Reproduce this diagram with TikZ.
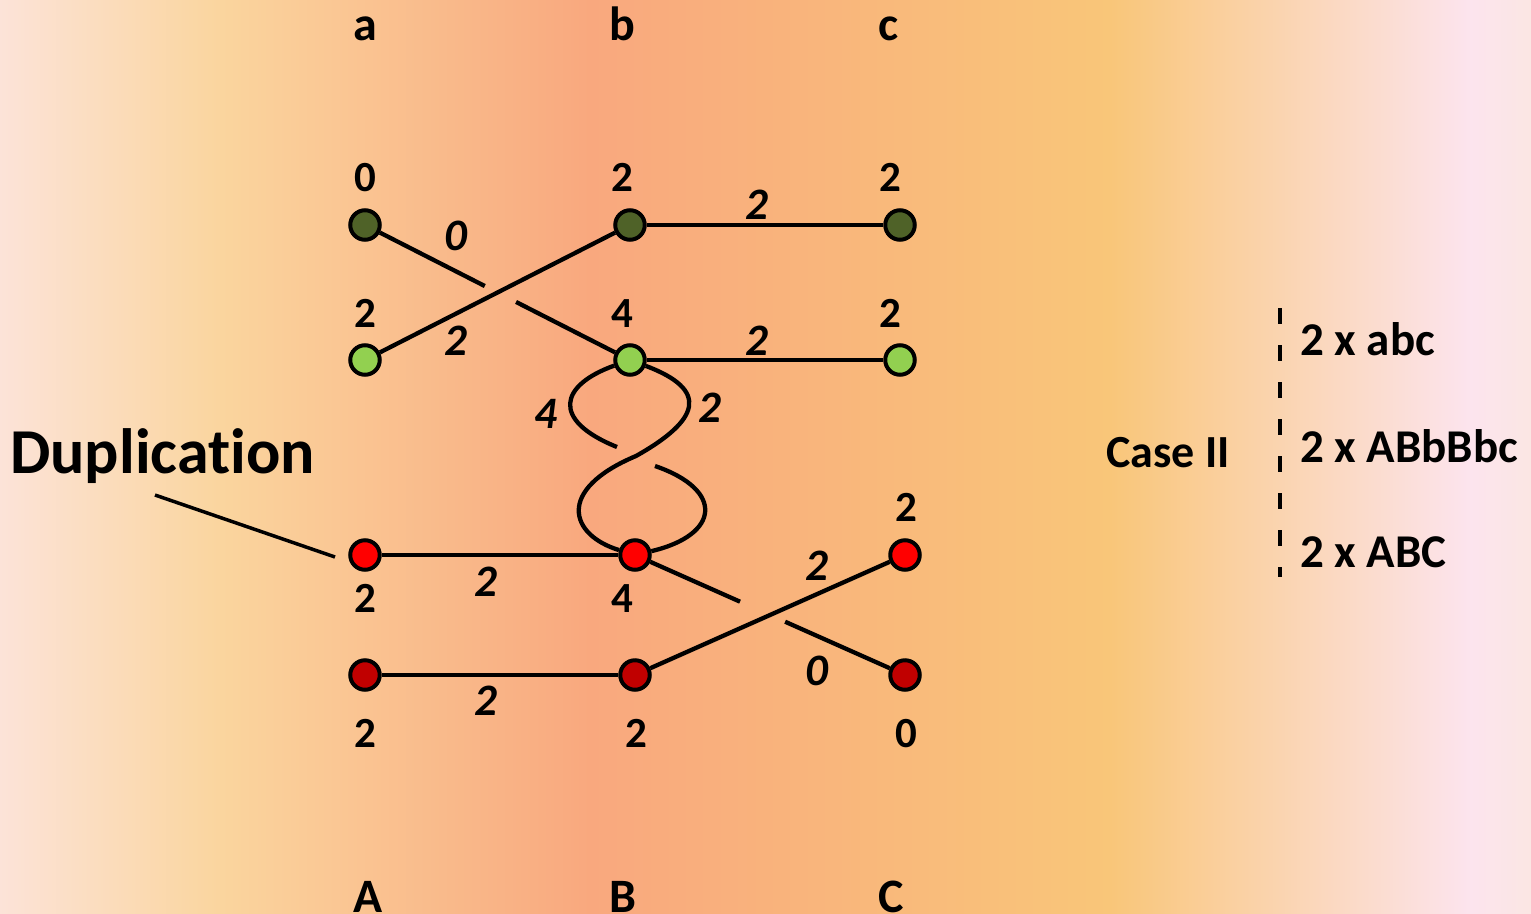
\documentclass[tikz,border=0pt]{standalone}
\usepackage{fontspec}
\setmainfont[Ligatures=NoCommon]{Carlito}
\usetikzlibrary{calc}
\definecolor{bgA}{HTML}{FCE3D8}
\definecolor{bgB}{HTML}{FAD59E}
\definecolor{bgC}{HTML}{F9A87E}
\definecolor{bgD}{HTML}{F9C679}
\definecolor{bgE}{HTML}{FCE4EE}
\definecolor{bgF}{HTML}{FBE6E3}
\definecolor{dkgreen}{HTML}{4F6228}
\definecolor{ltgreen}{HTML}{92D050}
\definecolor{brred}{HTML}{FF0000}
\definecolor{dkred}{HTML}{C00000}
\begin{document}
\begin{tikzpicture}[x=1pt,y=-1pt,
  dot/.style={circle,draw=black,line width=4pt,minimum size=29.5pt,inner sep=0pt},
  edge/.style={line width=4.3pt,black},
  num/.style={font=\fontsize{43}{45}\selectfont\bfseries,anchor=base,inner sep=0pt},
  elab/.style={font=\fontsize{45}{47}\selectfont\bfseries\itshape,anchor=base,inner sep=0pt},
  col/.style={font=\fontsize{48}{50}\selectfont\bfseries,anchor=base,inner sep=0pt},
  rtext/.style={font=\fontsize{47}{49}\selectfont\bfseries,anchor=base west,inner sep=0pt}]
\useasboundingbox (0,0) rectangle (1531,913);
% background gradient
\shade[left color=bgA,right color=bgB] (0,0) rectangle (221,913);
\shade[left color=bgB,right color=bgC] (220,0) rectangle (591,913);
\shade[left color=bgC,right color=bgD] (590,0) rectangle (1111,913);
\shade[left color=bgD,right color=bgE] (1110,0) rectangle (1471,913);
\shade[left color=bgE,right color=bgF] (1470,0) rectangle (1531,913);

% column letters
\node[col] (la) at (365,40) {a};
\node[col] (lb) at (622,40) {b};
\node[col] (lc) at (889,40) {c};
\node[col] (lA) at (368,912) {A};
\node[col] (lB) at (623,912) {B};
\node[col] (lC) at (891,912) {C};

% dots
\node[dot,fill=dkgreen] (a1) at (365,225) {};
\node[dot,fill=dkgreen] (b1) at (630,225) {};
\node[dot,fill=dkgreen] (c1) at (900,225) {};
\node[dot,fill=ltgreen] (a2) at (365,360) {};
\node[dot,fill=ltgreen] (b2) at (630,360) {};
\node[dot,fill=ltgreen] (c2) at (900,360) {};
\node[dot,fill=brred] (a3) at (365,555) {};
\node[dot,fill=brred] (b3) at (635,555) {};
\node[dot,fill=brred] (c3) at (905,555) {};
\node[dot,fill=dkred] (a4) at (365,675) {};
\node[dot,fill=dkred] (b4) at (635,675) {};
\node[dot,fill=dkred] (c4) at (905,675) {};

% edges
\draw[edge] (a2) -- (b1);
\draw[edge] (a1) -- ($(a1)!0.452!(b2)$);
\draw[edge] ($(a1)!0.57!(b2)$) -- (b2);
\draw[edge] (b1) -- (c1);
\draw[edge] (b2) -- (c2);
\draw[edge] (a3) -- (b3);
\draw[edge] (a4) -- (b4);
\draw[edge] (b4) -- (c3);
\draw[edge] (b3) -- ($(b3)!0.389!(c4)$);
\draw[edge] ($(b3)!0.556!(c4)$) -- (c4);
% twisted strands between b2 and b3
\coordinate (g1) at (617,447);
\coordinate (g2) at (655,466);
\coordinate (mid) at (636,456);
\draw[edge] (b2) .. controls (560,385) and (550,420) .. (g1);
\draw[edge] (g2) .. controls (725,490) and (720,535) .. (b3);
\draw[edge] (b2) .. controls (710,390) and (700,420) .. (mid)
            .. controls (555,490) and (570,535) .. (b3);
% duplication pointer
\coordinate (dupA) at (155,495);
\coordinate (dupB) at (335,557);
\draw[edge,line width=3.5pt] (dupA) -- (dupB);

% node numbers
\node[num] (n1) at (365,191) {0};
\node[num] (n2) at (622,191) {2};
\node[num] (n3) at (890,191) {2};
\node[num] (n4) at (365,327) {2};
\node[num] (n5) at (622,327) {4};
\node[num] (n6) at (890,327) {2};
\node[num] (n7) at (365,612) {2};
\node[num] (n8) at (622,612) {4};
\node[num] (n9) at (906,521) {2};
\node[num] (n10) at (365,747) {2};
\node[num] (n11) at (636,747) {2};
\node[num] (n12) at (906,747) {0};

% edge labels
\node[elab] (e1) at (456,250) {0};
\node[elab] (e2) at (456,355) {2};
\node[elab] (e3) at (757,219) {2};
\node[elab] (e4) at (757,355) {2};
\node[elab] (e5) at (546,428) {4};
\node[elab] (e6) at (710,422) {2};
\node[elab] (e7) at (486,596) {2};
\node[elab] (e8) at (486,715) {2};
\node[elab] (e9) at (817,580) {2};
\node[elab] (e10) at (817,685) {0};

% texts
\node[font=\fontsize{64}{66}\selectfont\bfseries,anchor=base west,inner sep=0pt] (dup) at (10,473) {Duplication};
\node[font=\fontsize{46}{48}\selectfont\bfseries,anchor=base,inner sep=0pt] (case) at (1168,467) {Case II};
\coordinate (dashT) at (1280,308);
\coordinate (dashB) at (1280,577);
\draw[line width=4pt,dash pattern=on 16pt off 21pt] (dashT) -- (dashB);
\node[rtext] (r1) at (1300,355) {2 x abc};
\node[rtext] (r2) at (1300,462) {2 x ABbBbc};
\node[rtext] (r3) at (1300,567) {2 x ABC};
\end{tikzpicture}
\end{document}
